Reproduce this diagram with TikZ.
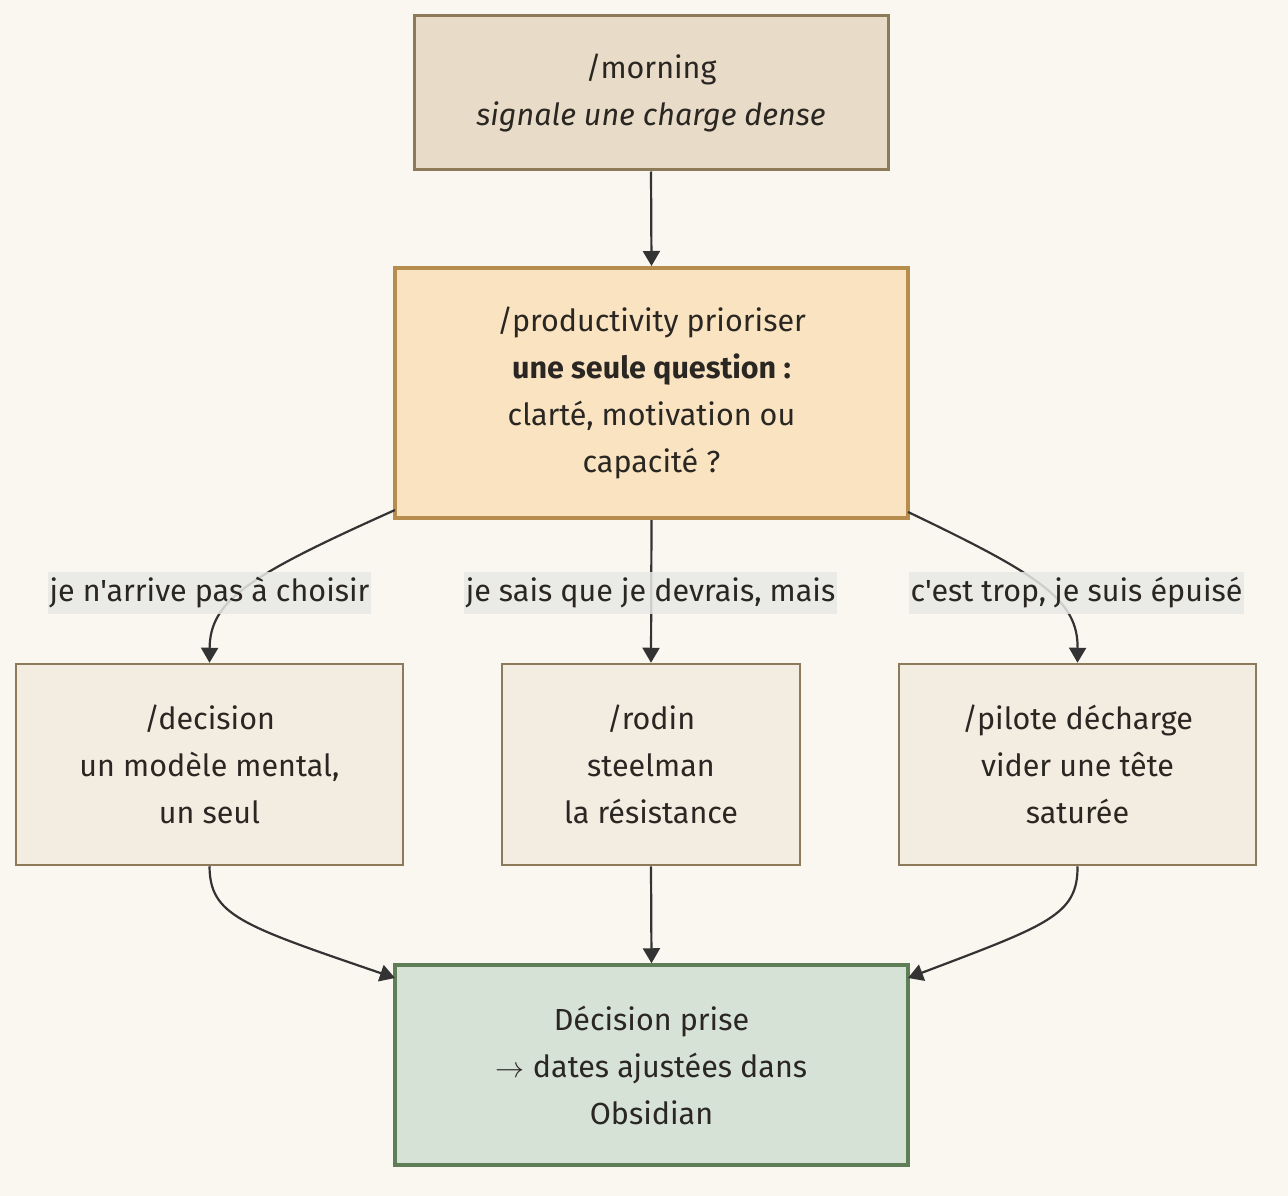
\documentclass[tikz,border=0pt]{standalone}
\usepackage{fontspec}
\usepackage{graphicx}
\setmainfont{Fira Sans}[Ligatures=TeXOff]
\usetikzlibrary{arrows.meta}
\definecolor{bgc}{HTML}{FAF7F0}
\definecolor{topfill}{HTML}{E8DCC8}
\definecolor{topdraw}{HTML}{8C7A58}
\definecolor{midfill}{HTML}{F9E3C1}
\definecolor{middraw}{HTML}{B68D4D}
\definecolor{boxfill}{HTML}{F3ECE1}
\definecolor{boxdraw}{HTML}{8C7A5A}
\definecolor{botfill}{HTML}{D6E2D5}
\definecolor{botdraw}{HTML}{5F7E58}
\definecolor{txt}{HTML}{2A2622}
\definecolor{edgec}{HTML}{333333}
\definecolor{lblfill}{HTML}{E8E8E6}
\tikzset{
  every node/.style={text=txt, font=\fontsize{30.5}{47}\selectfont, align=center, inner sep=0pt},
  boxstyle/.style={rectangle, minimum width=#1, minimum height=201pt},
  edgestyle/.style={draw=edgec, line width=2.2pt, -{Triangle[length=15pt,width=17pt]}},
  lbl/.style={fill=lblfill, fill opacity=0.85, text opacity=1, inner xsep=2pt, inner ysep=6pt}
}
\begin{document}
\begin{tikzpicture}[x=1pt,y=-1pt]
\fill[bgc] (0,0) rectangle (1288,1196);
\useasboundingbox (0,0) rectangle (1288,1196);

\node[fill=topfill, draw=topdraw, line width=3pt, minimum width=474pt, minimum height=154pt] (top) at (651,93)
  {/morning\\\textit{signale une charge dense}};
\node[fill=midfill, draw=middraw, line width=4pt, minimum width=513pt, minimum height=250pt] (mid) at (651.5,393)
  {/productivity prioriser\\\textbf{une seule question :}\\clarté, motivation ou\\capacité ?};
\node[boxstyle=387pt, fill=boxfill, draw=boxdraw, line width=2.5pt] (left) at (209.5,764.5)
  {/decision\\un modèle mental,\\un seul};
\node[boxstyle=298pt, fill=boxfill, draw=boxdraw, line width=2.5pt] (center) at (651,764.5)
  {/rodin\\steelman\\la résistance};
\node[boxstyle=357pt, fill=boxfill, draw=boxdraw, line width=2.5pt] (right) at (1077.5,764.5)
  {/pilote décharge\\vider une tête\\saturée};
\node[fill=botfill, draw=botdraw, line width=3.5pt, minimum width=513pt, minimum height=200pt] (bot) at (651.5,1065)
  {Décision prise\\\resizebox{29pt}{!}{$\rightarrow$} dates ajustées dans\\Obsidian};

\coordinate (m1) at (395,510);
\coordinate (m3) at (908,512);
\coordinate (b1) at (395,978);
\coordinate (b3) at (908,978);

\draw[edgestyle] (top.south) -- (mid.north);
\draw[edgestyle] (m1) .. controls (250,575) and (210,600) .. (left.north);
\draw[edgestyle] (mid.south) -- (center.north);
\draw[edgestyle] (m3) .. controls (1040,575) and (1078,600) .. (right.north);
\draw[edgestyle] (left.south) .. controls (210,915) and (240,925) .. (b1);
\draw[edgestyle] (center.south) -- (bot.north);
\draw[edgestyle] (right.south) .. controls (1078,915) and (1048,925) .. (b3);

\node[lbl] (l1) at (209.5,593) {je n'arrive pas à choisir};
\node[lbl] (l2) at (650.5,593) {je sais que je devrais, mais};
\node[lbl] (l3) at (1076.5,593) {c'est trop, je suis épuisé};
\end{tikzpicture}
\end{document}
